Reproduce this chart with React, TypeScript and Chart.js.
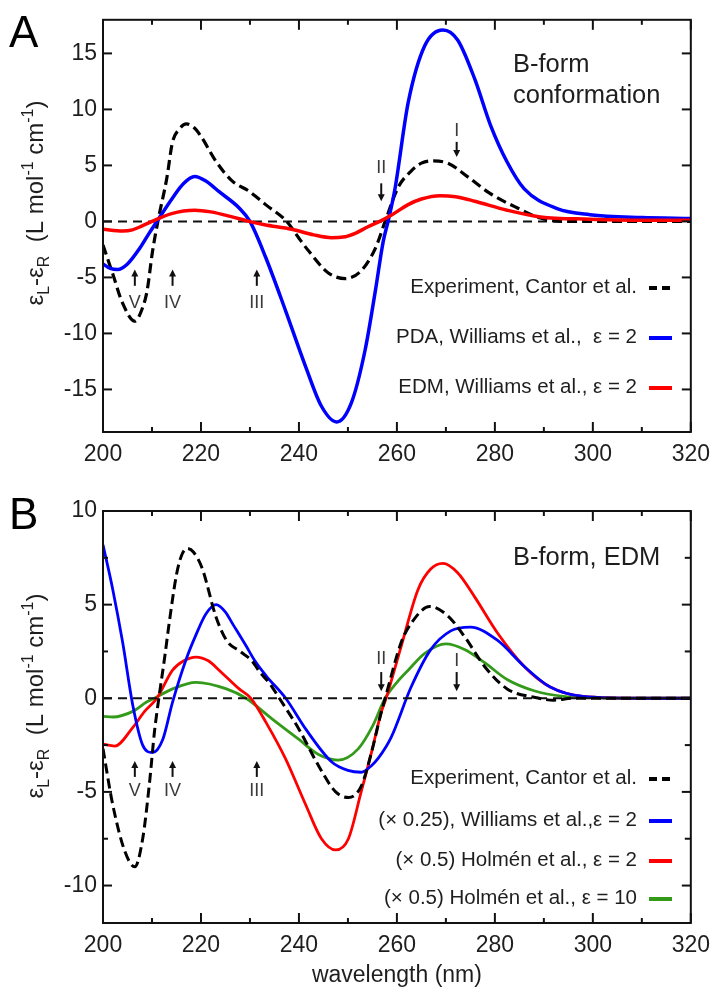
import React, { useEffect, useRef } from 'react';
import { Chart, registerables } from 'chart.js';

Chart.register(...registerables);

const FONT = '"Liberation Sans", Arial, Helvetica, sans-serif';

// ---------- axis ticks ----------
const X_MAJOR = [200, 220, 240, 260, 280, 300, 320];
const X_MINOR = [210, 230, 250, 270, 290, 310];
const A_Y_MAJOR = [-15, -10, -5, 0, 5, 10, 15];
const A_Y_MINOR: number[] = [];
const B_Y_MAJOR = [-10, -5, 0, 5, 10];
const B_Y_MINOR = [-7.5, -2.5, 2.5, 7.5];

// ---------- reference zero line ----------
const ZERO_NM = [200, 320];
const ZERO_VAL = [0, 0];

// ---------- Panel A ----------
const A_EXP_NM = [200, 202, 204, 206.5, 208, 209, 210.1, 211.2, 213, 214.2, 215.5, 217, 218.5, 220, 223, 226.4, 229.8, 233.2, 237.5, 240, 242, 246, 249.5, 252.7, 255.6, 257.6, 260.2, 262.9, 265, 267, 270.4, 274.4, 279, 284.6, 289.3, 294, 300, 310, 320];
const A_EXP_VAL = [-2.1, -4.7, -7.3, -8.9, -7.8, -6.2, -2.7, 0, 3.8, 7.1, 8.2, 8.7, 8.4, 7.6, 5.4, 3.6, 2.7, 1.5, 0, -1.5, -2.65, -4.6, -5.1, -4.4, -2.4, 0, 3, 4.5, 5.2, 5.4, 5.2, 4, 2.5, 1.2, 0.3, 0, 0, 0, 0];

const A_PDA_NM = [200, 201.5, 203, 205, 207.5, 209.5, 211, 214.2, 216.5, 218.7, 221, 223.7, 227.8, 230, 233.2, 237.3, 241.4, 244.6, 247.7, 250.7, 253.5, 255.6, 257.2, 258.2, 259.6, 262.3, 265.7, 269.4, 272.4, 275.9, 279.1, 282.5, 286, 292.7, 299.4, 310, 320];
const A_PDA_VAL = [-3.8, -4.2, -4.3, -3.8, -2.4, -1.0, 0, 2.1, 3.4, 4.0, 3.6, 2.65, 1.2, 0, -3.2, -8, -13, -16.5, -17.9, -16.2, -11.5, -6.2, -1.8, 0, 2.9, 10.6, 15.7, 17.1, 16.2, 12.7, 8.6, 5.3, 2.9, 1.15, 0.6, 0.35, 0.27];

const A_EDM_NM = [200, 204, 206, 208, 210, 214, 218.7, 222, 226, 229.8, 233, 238.5, 243, 246.7, 249, 251.5, 254, 256.5, 259, 262.3, 265, 268.8, 272, 275.9, 282.5, 289.3, 299.4, 310, 320];
const A_EDM_VAL = [-0.7, -0.85, -0.75, -0.4, 0, 0.7, 1.0, 0.85, 0.45, 0, -0.3, -0.7, -1.2, -1.45, -1.4, -1.06, -0.5, 0, 0.6, 1.5, 2.0, 2.3, 2.2, 1.8, 1.0, 0.4, 0.2, 0.1, 0.1];

// ---------- Panel B ----------
const B_EXP_NM = [200, 202, 204.5, 206.5, 208.1, 209.5, 210.5, 211.4, 212.6, 213.5, 215, 216, 217.2, 218.5, 220.3, 223, 225.2, 228, 230.4, 232, 234, 236, 240, 244, 247.5, 250.1, 252.7, 254.8, 256.8, 257.6, 260.9, 262.9, 266.7, 270.4, 273.8, 277.9, 282.5, 288, 292, 296, 310, 320];
const B_EXP_VAL = [-2.7, -5.7, -8.2, -9.0, -7.5, -4.5, -1.8, 0, 2.2, 4.0, 6.6, 7.6, 8.0, 7.8, 6.9, 4.4, 3.1, 2.5, 2.0, 1.4, 0.8, 0, -1.65, -3.6, -5.0, -5.3, -4.7, -2.9, -0.75, 0, 3.0, 4.0, 4.9, 4.4, 3.3, 1.7, 0.5, 0.05, -0.1, 0, 0, 0];

const B_WIL_NM = [200, 202, 204, 206.1, 208.1, 210.1, 212.2, 214.2, 217, 219, 221, 223.1, 225, 226.4, 229.2, 231, 233.3, 237.3, 241.4, 246.7, 250, 252.7, 254.8, 256.2, 258.8, 262.9, 266.9, 271, 275, 280.5, 286, 291.3, 298, 310, 320];
const B_WIL_VAL = [8.2, 5.8, 3.0, -0.4, -2.5, -2.9, -2.2, -0.2, 2.1, 3.4, 4.5, 5.0, 4.6, 4.0, 2.8, 2.0, 1.2, 0, -1.65, -3.4, -3.85, -3.95, -3.6, -3.2, -2.1, 0.6, 2.6, 3.6, 3.8, 3.1, 1.7, 0.6, 0.1, 0, 0];

const B_HOL2_NM = [200, 202.4, 206.1, 208.5, 211, 214.2, 216.5, 219, 221.5, 223.7, 227.8, 230.2, 233.3, 237.3, 241.4, 244.6, 247.5, 250.1, 252.7, 254.8, 256.8, 257.8, 260.9, 264.3, 266.9, 269.4, 272.4, 275.9, 280.5, 286, 291.3, 298, 310, 320];
const B_HOL2_VAL = [-2.45, -2.55, -1.55, -0.7, 0, 1.5, 2.0, 2.2, 2.0, 1.5, 0.5, 0, -1.3, -3.25, -5.7, -7.5, -8.1, -7.5, -5.0, -2.9, -0.75, 0, 2.8, 5.8, 6.9, 7.2, 6.7, 5.4, 3.5, 1.7, 0.6, 0.1, 0, 0];

const B_HOL10_NM = [200, 202, 206.1, 208.9, 210.5, 214.2, 219, 225.2, 229.2, 234.5, 240, 244, 248, 252.1, 255, 257.6, 260, 262.3, 265.7, 270, 273.8, 277.9, 282.5, 288, 294, 300, 310, 320];
const B_HOL10_VAL = [-0.97, -1.0, -0.7, -0.2, 0, 0.5, 0.85, 0.5, 0, -1.1, -2.2, -3.0, -3.3, -2.7, -1.5, 0, 0.85, 1.5, 2.4, 2.9, 2.6, 1.9, 1.0, 0.4, 0.1, 0.03, 0, 0];

// ---------- legends ----------
const A_LEGEND = ['Experiment, Cantor et al.', 'PDA, Williams et al.,  ε = 2', 'EDM, Williams et al., ε = 2'];
const B_LEGEND = ['Experiment, Cantor et al.', '(× 0.25), Williams et al.,ε = 2', '(× 0.5) Holmén et al., ε = 2', '(× 0.5) Holmén et al., ε = 10'];

// ---------- transition markers ----------
const ARROW_LABELS = ['V', 'IV', 'III', 'II', 'I'];
const ARROW_NM = [206.5, 214.2, 231.4, 256.8, 272.2];
const A_ARROW_TIP = [-4.3, -4.3, -4.3, 1.8, 5.75];
const A_ARROW_TAIL = [-5.75, -5.75, -5.75, 3.4, 7.1];
const A_ARROW_TEXT = [-7.3, -7.3, -7.3, 4.8, 8.1];
const B_ARROW_TIP = [-3.35, -3.35, -3.35, 0.37, 0.37];
const B_ARROW_TAIL = [-4.2, -4.2, -4.2, 1.4, 1.4];
const B_ARROW_TEXT = [-4.95, -4.95, -4.95, 2.07, 1.97];

const BLUE = '#0000ff';
const RED = '#ff0000';
const GREEN = '#339a1a';
const BLACK = '#000000';
const TEXT = '#1e1e1e';

function lineDs(nm: number[], val: number[], color: string, width: number, dash: number[], order: number) {
  return {
    data: nm.map((x, i) => ({ x, y: val[i] })),
    borderColor: color,
    backgroundColor: color,
    borderWidth: width,
    borderDash: dash,
    pointRadius: 0,
    cubicInterpolationMode: 'monotone',
    fill: false,
    order,
  };
}

type Panel = {
  name: string;
  letter: string;
  letterY: number;
  notes: string[];
  noteY: number[];
  legend: string[];
  legendColors: string[];
  legendY: number[];
  yMajor: number[];
  yMinor: number[];
  titleCY: number;
  arrowTip: number[];
  arrowTail: number[];
  arrowText: number[];
};

function drawYTitle(ctx: CanvasRenderingContext2D, bx: number, cy: number) {
  const main = `24px ${FONT}`;
  const small = `16px ${FONT}`;
  const segs: [string, string, number][] = [
    ['ε', main, 0],
    ['L', small, 6],
    ['-ε', main, 0],
    ['R', small, 6],
    ['  (L mol', main, 0],
    ['-1', small, -10],
    [' cm', main, 0],
    ['-1', small, -10],
    [')', main, 0],
  ];
  let total = 0;
  for (const [t, f] of segs) {
    ctx.font = f;
    total += ctx.measureText(t).width;
  }
  ctx.save();
  ctx.translate(bx, cy);
  ctx.rotate(-Math.PI / 2);
  ctx.fillStyle = TEXT;
  ctx.textAlign = 'left';
  ctx.textBaseline = 'alphabetic';
  let x = -total / 2;
  for (const [t, f, dy] of segs) {
    ctx.font = f;
    ctx.fillText(t, x, dy);
    x += ctx.measureText(t).width;
  }
  ctx.restore();
}

function decorPlugin(p: Panel) {
  return {
    id: 'decor' + p.name,
    afterDatasetsDraw(chart: any) {
      const { ctx, chartArea: ca } = chart;
      const xs = chart.scales.x;
      const ys = chart.scales.y;
      ctx.save();
      // frame
      ctx.strokeStyle = '#111';
      ctx.lineWidth = 2;
      ctx.setLineDash([]);
      ctx.strokeRect(ca.left, ca.top, ca.right - ca.left, ca.bottom - ca.top);
      const seg = (x1: number, y1: number, x2: number, y2: number) => {
        ctx.beginPath();
        ctx.moveTo(x1, y1);
        ctx.lineTo(x2, y2);
        ctx.stroke();
      };
      // inward ticks
      X_MAJOR.forEach((v) => {
        const px = xs.getPixelForValue(v);
        seg(px, ca.bottom, px, ca.bottom - 10);
        seg(px, ca.top, px, ca.top + 10);
      });
      X_MINOR.forEach((v) => {
        const px = xs.getPixelForValue(v);
        seg(px, ca.bottom, px, ca.bottom - 5);
        seg(px, ca.top, px, ca.top + 5);
      });
      p.yMajor.forEach((v) => {
        const py = ys.getPixelForValue(v);
        seg(ca.left, py, ca.left + 9, py);
        seg(ca.right, py, ca.right - 9, py);
      });
      p.yMinor.forEach((v) => {
        const py = ys.getPixelForValue(v);
        seg(ca.left, py, ca.left + 5, py);
        seg(ca.right, py, ca.right - 6, py);
      });

      // arrows and labels
      ARROW_NM.forEach((nm, i) => {
        const px = xs.getPixelForValue(nm);
        const tip = ys.getPixelForValue(p.arrowTip[i]);
        const tail = ys.getPixelForValue(p.arrowTail[i]);
        const dir = tip < tail ? -1 : 1;
        ctx.strokeStyle = '#111';
        ctx.fillStyle = '#111';
        ctx.lineWidth = 2;
        seg(px, tail, px, tip - dir * 5);
        ctx.beginPath();
        ctx.moveTo(px, tip);
        ctx.lineTo(px - 3.5, tip - dir * 7);
        ctx.lineTo(px + 3.5, tip - dir * 7);
        ctx.closePath();
        ctx.fill();
        ctx.font = `18px ${FONT}`;
        ctx.fillStyle = '#3a3a3a';
        ctx.textAlign = 'center';
        ctx.textBaseline = 'middle';
        ctx.fillText(ARROW_LABELS[i], px, ys.getPixelForValue(p.arrowText[i]));
      });

      // panel letter
      ctx.fillStyle = '#000';
      ctx.font = `44px ${FONT}`;
      ctx.textAlign = 'left';
      ctx.textBaseline = 'alphabetic';
      ctx.fillText(p.letter, 9, p.letterY);

      // annotation text
      ctx.fillStyle = TEXT;
      ctx.font = `25.5px ${FONT}`;
      p.notes.forEach((t, i) => ctx.fillText(t, 513, p.noteY[i]));

      // legend
      ctx.font = `20.5px ${FONT}`;
      ctx.textAlign = 'right';
      ctx.textBaseline = 'middle';
      p.legend.forEach((t, i) => {
        const y = p.legendY[i];
        ctx.fillStyle = TEXT;
        ctx.fillText(t, 637, y);
        ctx.strokeStyle = p.legendColors[i];
        ctx.lineWidth = 4;
        ctx.setLineDash(p.legendColors[i] === BLACK ? [8, 5] : []);
        seg(649, y + 1, 672, y + 1);
      });
      ctx.setLineDash([]);

      // y axis title
      drawYTitle(ctx, 43, p.titleCY);
      ctx.restore();
    },
  };
}

function baseOptions(yMin: number, yMax: number, yTicks: number[], padTop: number, xHeight: number, xTitle: boolean) {
  return {
    animation: false,
    responsive: false,
    devicePixelRatio: 1,
    events: [],
    layout: { padding: { top: padTop, right: 25, left: 0, bottom: 0 } },
    plugins: { legend: { display: false }, tooltip: { enabled: false } },
    scales: {
      x: {
        type: 'linear',
        min: 200,
        max: 320,
        afterBuildTicks: (s: any) => {
          s.ticks = X_MAJOR.map((v) => ({ value: v }));
        },
        afterFit: (s: any) => {
          s.height = xHeight;
        },
        grid: { display: false, drawTicks: false },
        border: { display: false },
        ticks: { font: { family: FONT, size: 23 }, color: TEXT, padding: 9, maxRotation: 0, autoSkip: false },
        title: {
          display: xTitle,
          text: 'wavelength (nm)',
          font: { family: FONT, size: 23 },
          color: TEXT,
          padding: { top: 0, bottom: 5 },
        },
      },
      y: {
        type: 'linear',
        min: yMin,
        max: yMax,
        afterBuildTicks: (s: any) => {
          s.ticks = yTicks.map((v) => ({ value: v }));
        },
        afterFit: (s: any) => {
          s.width = 103;
        },
        grid: { display: false, drawTicks: false },
        border: { display: false },
        ticks: { font: { family: FONT, size: 23 }, color: TEXT, padding: 6, autoSkip: false },
      },
    },
  };
}

function configA(): any {
  const panel: Panel = {
    name: 'A',
    letter: 'A',
    letterY: 47,
    notes: ['B-form', 'conformation'],
    noteY: [72, 103],
    legend: A_LEGEND,
    legendColors: [BLACK, BLUE, RED],
    legendY: [287, 337, 387],
    yMajor: A_Y_MAJOR,
    yMinor: A_Y_MINOR,
    titleCY: 203,
    arrowTip: A_ARROW_TIP,
    arrowTail: A_ARROW_TAIL,
    arrowText: A_ARROW_TEXT,
  };
  return {
    type: 'line',
    data: {
      datasets: [
        lineDs(A_EDM_NM, A_EDM_VAL, RED, 3.5, [], 1),
        lineDs(A_PDA_NM, A_PDA_VAL, BLUE, 3.5, [], 2),
        lineDs(A_EXP_NM, A_EXP_VAL, BLACK, 3.2, [10, 5], 3),
        lineDs(ZERO_NM, ZERO_VAL, '#111', 2, [9, 6], 9),
      ],
    },
    options: baseOptions(-18.8, 18, A_Y_MAJOR, 17, 38, false),
    plugins: [decorPlugin(panel)],
  };
}

function configB(): any {
  const panel: Panel = {
    name: 'B',
    letter: 'B',
    letterY: 49,
    notes: ['B-form, EDM'],
    noteY: [85],
    legend: B_LEGEND,
    legendColors: [BLACK, BLUE, RED, GREEN],
    legendY: [298, 340, 380, 418],
    yMajor: B_Y_MAJOR,
    yMinor: B_Y_MINOR,
    titleCY: 216,
    arrowTip: B_ARROW_TIP,
    arrowTail: B_ARROW_TAIL,
    arrowText: B_ARROW_TEXT,
  };
  return {
    type: 'line',
    data: {
      datasets: [
        lineDs(B_EXP_NM, B_EXP_VAL, BLACK, 3, [10, 5], 0),
        lineDs(ZERO_NM, ZERO_VAL, '#111', 2, [9, 6], 1),
        lineDs(B_HOL10_NM, B_HOL10_VAL, GREEN, 2.8, [], 4),
        lineDs(B_HOL2_NM, B_HOL2_VAL, RED, 2.8, [], 3),
        lineDs(B_WIL_NM, B_WIL_VAL, BLUE, 2.8, [], 2),
      ],
    },
    options: baseOptions(-12, 10, B_Y_MAJOR, 31, 71, true),
    plugins: [decorPlugin(panel)],
  };
}

function ChartCanvas({ make, top, height }: { make: () => any; top: number; height: number }) {
  const ref = useRef<HTMLCanvasElement | null>(null);
  useEffect(() => {
    if (!ref.current) return;
    const chart = new Chart(ref.current, make());
    return () => chart.destroy();
  }, [make]);
  return (
    <canvas
      ref={ref}
      width={719}
      height={height}
      style={{ position: 'absolute', left: 0, top, width: 719, height, display: 'block' }}
    />
  );
}

export default function App() {
  return (
    <div style={{ position: 'absolute', left: 0, top: 0, width: 719, height: 994, background: '#fff' }}>
      <ChartCanvas make={configA} top={0} height={470} />
      <ChartCanvas make={configB} top={480} height={514} />
    </div>
  );
}
